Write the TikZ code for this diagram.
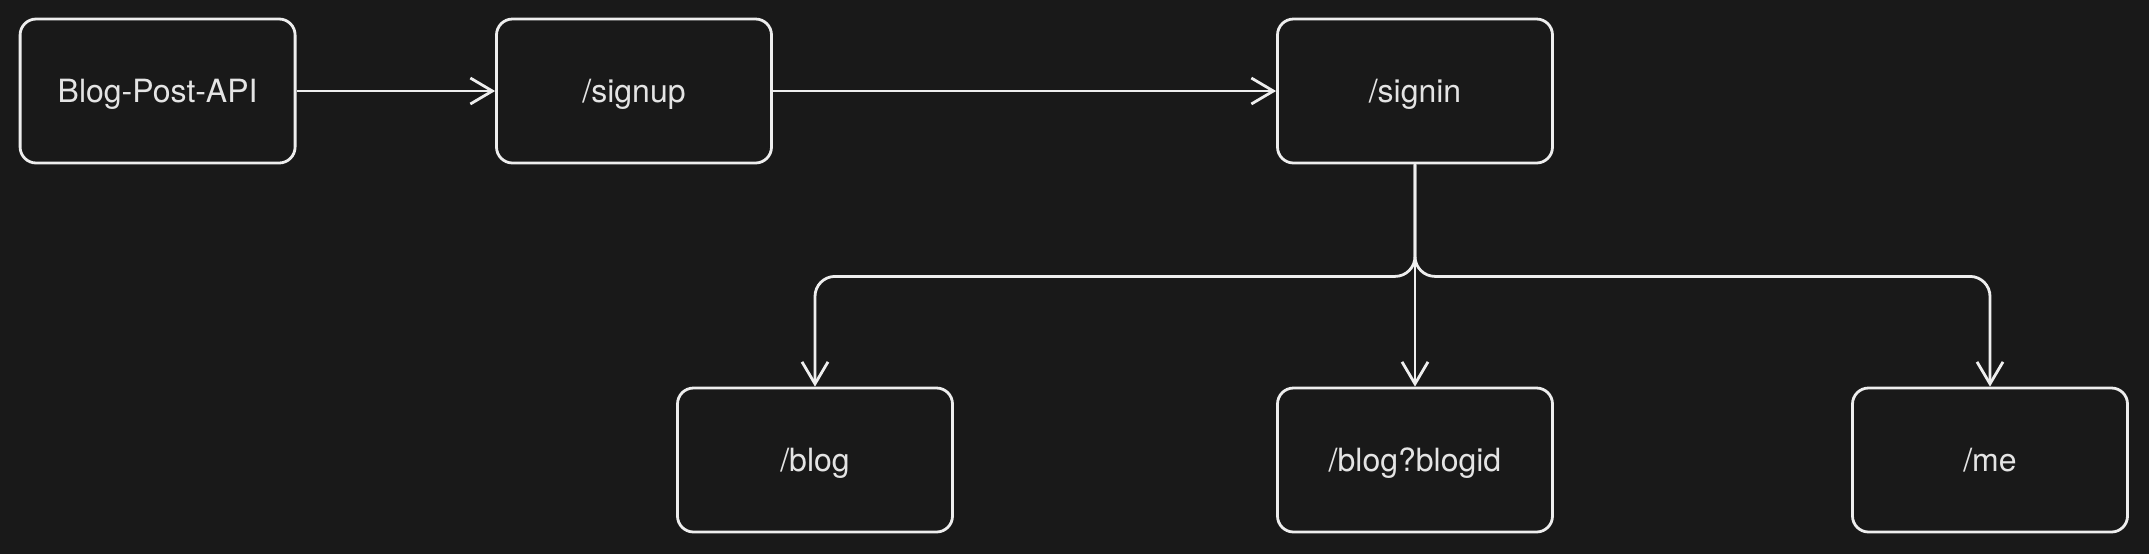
\documentclass[tikz,border=0pt]{standalone}
\usepackage{fontspec}
\setmainfont{TeX Gyre Heros}
\usepackage{tikz}
\usepackage{xcolor}
\usetikzlibrary{arrows.meta,positioning,calc}
\definecolor{BgColor}{RGB}{25,25,25}
\definecolor{LineColor}{RGB}{238,238,238}
\definecolor{TextColor}{RGB}{228,228,228}
\tikzset{
  routebox/.style={draw=LineColor, line width=1.4pt, rounded corners=8pt, minimum width=137.5pt, minimum height=72pt, text depth=0pt, text=TextColor, font=\fontsize{16}{19}\selectfont},
  routearrow/.style={draw=LineColor, line width=1.4pt, -{Straight Barb[length=11pt,width=13pt]}},
}

\begin{document}
\begin{tikzpicture}[x=0.5pt, y=-0.5pt]
      \fill[BgColor] (0,0) rectangle (2149,554);
      \useasboundingbox (0,0) rectangle (2149,554);

      % top row
      \node[routebox] (api) at (157.6,91) {Blog-Post-API};
      \node[routebox] (signup) at (634,91) {/signup};
      \node[routebox] (signin) at (1415,91) {/signin};

      % bottom row
      \node[routebox] (blog) at (815,460) {/blog};
      \node[routebox] (blogid) at (1415,460) {/blog?blogid};
      \node[routebox] (me) at (1990,460) {/me};

      \draw[routearrow] (api) -- (signup);
      \draw[routearrow] (signup) -- (signin);

      \draw[routearrow] (signin.south) -- (blogid.north);
      \foreach \dest in {blog,me} {
        \draw[routearrow, rounded corners=10pt] (signin.south) -- ++(0,112) -| (\dest.north);
      }
\end{tikzpicture}
\end{document}
